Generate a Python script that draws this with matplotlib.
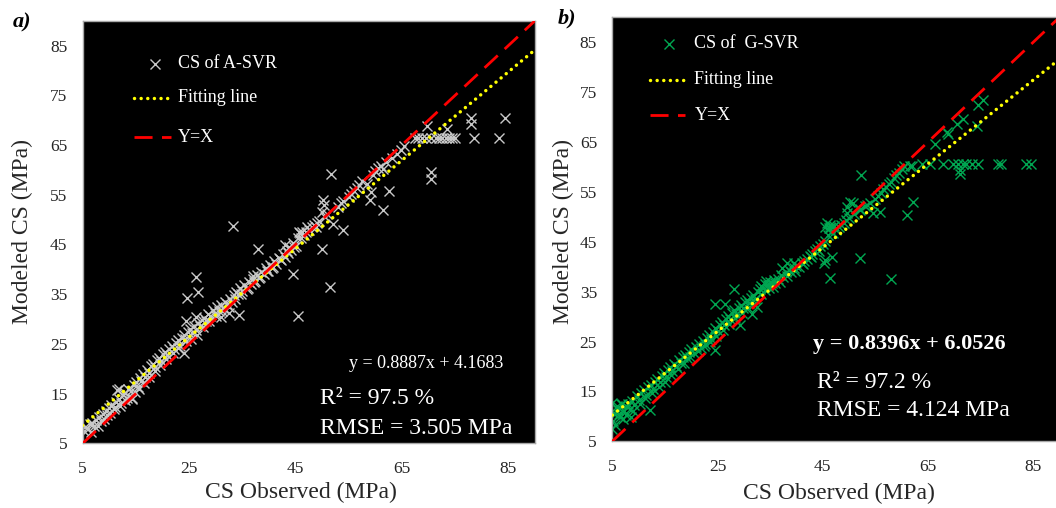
import matplotlib
matplotlib.use("Agg")
import matplotlib.pyplot as plt
from matplotlib.lines import Line2D

plt.rcParams['font.family'] = ['Liberation Serif', 'DejaVu Serif']

W, H = 1056, 508

# ---------------- data: panel a (A-SVR) ----------------
obs_a_main = [5.2, 5.5, 6.0, 6.3, 6.8, 7.2, 7.5, 8.0, 8.4, 8.8, 9.3, 9.6, 10.0, 10.4, 10.8, 11.2, 11.5, 11.8,
              12.2, 12.5, 12.9, 13.3, 13.6, 14.0, 14.3, 14.6, 15.0, 15.3, 15.7, 16.0, 16.3, 16.7, 17.0, 17.4,
              17.8, 18.2, 18.5, 18.9, 19.3, 19.7, 20.1, 20.5, 20.9, 21.3, 21.7, 22.1, 22.5, 22.9, 23.2, 23.6,
              24.0, 24.3, 24.7, 25.1, 25.5, 25.9, 26.2, 26.6, 27.0, 27.4, 27.8, 28.2, 28.6, 29.0, 29.4, 29.8,
              30.2, 30.6, 31.0, 31.4, 31.8, 32.2, 32.6, 33.0, 33.4, 33.8, 34.2, 34.6, 35.0, 35.4, 35.8, 36.2,
              36.6, 37.0, 37.4, 37.8, 38.2, 38.6, 39.0, 39.4, 39.8, 40.2, 40.6, 41.0, 41.4, 41.8, 42.2, 42.6,
              43.0, 43.4, 43.8, 44.2, 44.6, 45.0, 45.4, 45.8, 46.2, 46.6, 47.0, 47.5, 48.0, 48.5, 49.0, 49.5,
              50.5, 51.0, 53.0, 53.5, 54.0, 55.0, 55.5, 56.0, 57.0, 57.5, 58.5, 60.0, 60.5, 61.0, 62.0, 63.2,
              64.8, 65.3,
              6.5, 7.8, 9.0, 10.2, 11.0, 12.0, 13.0, 14.8, 15.5, 16.5, 17.5, 18.6, 19.5, 20.7, 21.9, 23.0,
              24.5, 25.3, 26.4, 27.6, 28.8, 30.0, 31.2, 32.4, 33.6, 34.8, 36.0, 37.2, 38.4, 39.6, 40.8, 42.0,
              43.6, 44.8, 45.6, 46.0, 47.2, 48.8, 56.5, 59.5, 61.5, 64.0]
mod_a_main = [7.5, 8.2, 7.8, 8.8, 9.0, 8.5, 9.6, 10.2, 9.5, 10.8, 11.5, 10.6, 12.0, 12.8, 11.9, 13.4, 15.8, 14.0,
              13.2, 14.8, 15.2, 14.2, 16.0, 15.5, 14.1, 16.7, 17.3, 16.4, 18.1, 17.6, 19.0, 18.4, 19.8, 19.2,
              20.5, 21.0, 20.3, 21.8, 22.2, 21.5, 22.9, 23.4, 22.8, 24.0, 24.5, 23.9, 25.2, 25.8, 24.6, 26.1,
              26.7, 25.9, 27.4, 28.0, 27.1, 28.6, 27.8, 29.2, 28.5, 29.8, 30.3, 29.5, 31.0, 30.6, 31.8, 31.2,
              32.4, 31.7, 32.9, 32.2, 33.5, 33.0, 34.1, 33.5, 34.8, 35.5, 35.0, 36.2, 35.6, 36.8, 36.1, 37.4,
              37.0, 38.1, 37.6, 38.8, 38.3, 39.5, 39.0, 40.2, 39.7, 40.9, 40.3, 41.6, 41.0, 42.3, 41.8, 43.0,
              42.5, 43.7, 44.5, 43.9, 45.2, 44.7, 46.3, 47.2, 47.6, 46.8, 47.4, 48.0, 48.5, 49.0, 49.3, 49.8,
              50.6, 51.2, 52.6, 53.3, 53.8, 54.6, 55.2, 55.8, 57.0, 57.8, 57.2, 59.8, 60.3, 60.8, 61.5, 62.3,
              64.0, 64.7,
              7.2, 8.4, 9.8, 11.0, 12.4, 12.6, 13.8, 15.4, 16.0, 17.2, 18.4, 19.6, 20.7, 21.9, 23.2, 24.1,
              25.6, 26.0, 26.7, 28.4, 29.5, 30.6, 31.6, 32.5, 34.0, 35.0, 36.3, 37.4, 38.4, 39.6, 40.5, 42.1,
              43.2, 44.4, 47.6, 46.2, 48.5, 48.6, 56.4, 59.0, 60.2, 63.2]
obs_a_out = [51.7, 50.2, 50.3, 50.0, 50.0, 51.5, 45.5, 44.6, 33.3, 38.0, 26.2, 26.6, 24.6, 24.5, 26.2, 34.3,
             24.0, 53.9, 52.0, 58.9, 59.2, 62.5, 61.4, 69.7, 70.4, 70.4, 73.4, 78.0, 78.0, 78.6, 83.3, 84.4,
             11.8, 14.3, 43.1, 37.0, 31.0, 32.5,
             67.5, 68.1, 68.8, 69.6, 70.5, 71.4, 72.0, 72.6, 73.2, 73.8, 74.4, 75.0]
mod_a_out = [59.1, 53.9, 52.9, 51.6, 44.1, 36.4, 30.7, 39.0, 48.7, 44.0, 38.4, 35.5, 34.3, 29.5, 30.5, 30.9,
             23.2, 48.0, 49.1, 53.9, 55.6, 55.8, 51.9, 68.8, 59.6, 58.1, 68.3, 70.4, 69.2, 66.5, 66.5, 70.5,
             15.9, 14.0, 44.9, 38.7, 30.5, 31.2,
             66.5, 66.5, 66.5, 66.5, 66.5, 66.5, 66.5, 66.5, 66.5, 66.5, 66.5, 66.5]
slope_a, intercept_a = 0.8887, 4.1683

# ---------------- data: panel b (G-SVR) ----------------
obs_b_main = [5.0, 5.2, 5.5, 5.8, 6.0, 6.4, 6.8, 7.2, 7.6, 8.0, 8.4, 8.8, 9.2, 9.6, 10.0, 10.5, 11.0, 11.4,
              11.8, 12.3, 12.7, 13.1, 13.5, 14.0, 14.4, 14.8, 15.2, 15.6, 16.0, 16.4, 16.8, 17.2, 17.6, 18.0,
              18.4, 18.8, 19.2, 19.6, 20.0, 20.5, 21.0, 21.4, 21.8, 22.2, 22.6, 23.0, 23.4, 23.8, 24.2, 24.6,
              25.0, 25.4, 25.8, 26.2, 26.6, 27.0, 27.4, 27.8, 28.2, 28.6, 29.0, 29.4, 29.8, 30.2, 30.6, 31.0,
              31.4, 31.8, 32.2, 32.6, 33.0, 33.3, 33.6, 34.0, 34.3, 34.6, 35.0, 35.3, 35.7, 36.0, 36.5, 37.0,
              37.5, 38.0, 38.5, 39.0, 39.5, 40.0, 40.5, 41.0, 41.5, 42.0, 42.5, 43.0, 43.5, 44.0, 44.5, 45.0,
              45.5, 46.0, 46.5, 47.0, 47.5, 48.0, 48.5, 49.0, 49.5, 50.0, 51.0, 52.0, 53.0, 54.0, 55.0, 56.0,
              56.5, 57.0, 57.5, 58.5, 59.0, 60.0, 60.5, 61.5,
              5.5, 6.2, 7.0, 7.8, 9.0, 10.2, 11.2, 12.5, 13.8, 15.0, 16.2, 17.4, 18.6, 19.8, 21.2, 22.4,
              23.6, 24.8, 26.0, 27.2, 28.4, 29.6, 30.8, 32.0, 33.2, 34.0, 34.8, 35.5, 36.8, 38.2, 39.8, 41.2,
              42.8, 44.2, 46.2, 47.2, 53.5, 55.5, 58.0, 59.5]
mod_b_main = [7.5, 9.0, 10.5, 12.0, 11.2, 9.8, 12.4, 11.0, 10.2, 12.5, 11.4, 13.0, 12.2, 14.0, 13.2, 14.6, 15.2, 14.2,
              15.8, 16.3, 15.4, 16.8, 17.4, 16.8, 18.0, 18.6, 17.8, 19.2, 19.8, 19.0, 20.4, 20.0, 21.2, 20.6,
              21.8, 22.4, 21.6, 22.9, 23.5, 22.8, 24.0, 24.6, 23.8, 25.2, 24.6, 25.8, 26.4, 25.6, 27.0, 27.8,
              27.2, 28.4, 29.0, 28.3, 29.6, 30.2, 29.5, 30.8, 31.3, 30.6, 31.8, 32.4, 31.7, 32.9, 33.4, 32.7,
              33.8, 34.4, 33.6, 34.9, 35.5, 36.2, 35.8, 36.6, 37.2, 36.4, 37.0, 36.7, 37.4, 36.8, 37.6, 38.3,
              38.0, 38.9, 39.3, 39.0, 39.8, 40.2, 39.9, 40.8, 41.2, 41.6, 42.2, 42.6, 43.2, 43.6, 44.2, 44.6,
              45.2, 46.4, 47.0, 46.8, 47.4, 47.9, 48.4, 48.8, 49.3, 49.8, 50.6, 51.6, 52.2, 52.8, 53.5, 54.8,
              55.5, 56.0, 56.6, 57.8, 58.4, 59.5, 60.1, 60.2,
              8.2, 10.4, 9.4, 11.8, 11.0, 12.4, 13.6, 14.6, 15.8, 16.8, 18.2, 19.4, 20.6, 21.8, 23.2, 24.2,
              25.0, 26.2, 27.4, 28.6, 29.8, 30.8, 31.8, 32.6, 34.6, 35.4, 35.8, 36.0, 37.0, 38.2, 39.2, 40.6,
              41.9, 43.2, 47.8, 48.2, 52.4, 54.2, 56.9, 58.8]
obs_b_out = [52.3, 62.1, 61.1, 52.1, 57.9, 46.3, 46.7, 45.2, 45.4, 75.5, 74.6, 74.4, 71.7, 70.5, 68.6, 68.9,
             66.4, 71.1, 71.1, 63.8, 65.4, 61.9, 28.1, 24.6, 26.5, 24.6, 12.2, 5.0, 5.2, 29.3, 31.6, 32.5,
             37.3, 38.2, 39.5, 6.6, 8.5, 45.5, 46.4, 50.8, 50.2, 49.6, 49.6, 52.1, 54.6, 55.9, 45.8, 46.4,
             67.9, 69.8, 70.8, 71.7, 72.3, 73.3, 74.6, 78.4, 78.8, 83.7, 84.5]
mod_b_out = [58.3, 53.0, 50.4, 41.8, 37.5, 37.7, 41.9, 40.7, 41.4, 73.4, 72.4, 68.2, 69.7, 68.7, 67.1, 66.7,
             64.7, 59.4, 58.6, 60.6, 60.6, 60.2, 35.5, 32.6, 32.6, 23.3, 11.3, 12.6, 10.6, 28.3, 30.6, 32.0,
             39.7, 40.7, 40.7, 12.5, 9.8, 48.0, 48.4, 52.7, 53.0, 52.0, 50.7, 51.3, 50.7, 51.0, 48.7, 47.7,
             60.6, 60.6, 60.6, 60.6, 60.6, 60.6, 60.6, 60.6, 60.6, 60.6, 60.6]
slope_b, intercept_b = 0.8396, 6.0526

line_x = [5, 90]
x_ticks = [5, 25, 45, 65, 85]
y_ticks = [5, 15, 25, 35, 45, 55, 65, 75, 85]

GRAY = '#c8c8c8'
GREEN = '#00a651'
RED = '#ff0000'
YEL = '#ffff00'
MS = 7
MEW = 1.0
DOT = (0, (0.01, 1.9))
DASH = (6.5, 3.4)

fig = plt.figure(figsize=(W / 100, H / 100), dpi=100)


def fx(px):
    return px / W


def fy(py):
    return 1 - py / H


def make_axes(l, t, r, b):
    ax = fig.add_axes([fx(l), fy(b), (r - l) / W, (b - t) / H])
    ax.set_facecolor('black')
    ax.set_xlim(5, 90)
    ax.set_ylim(5, 90)
    ax.set_xticks(x_ticks)
    ax.set_yticks(y_ticks)
    ax.tick_params(length=0, labelsize=12.5, pad=11, colors='#262626')
    ax.tick_params(axis='x', pad=13)
    for s in ax.spines.values():
        s.set_color('#a8a8a8')
        s.set_linewidth(1.0)
    return ax


def draw_panel(ax, ox, oy, ex, ey, slope, intercept, color):
    ax.plot(ox, oy, linestyle='none', marker='x', markersize=MS, mew=MEW, color=color, zorder=2)
    ax.plot(ex, ey, linestyle='none', marker='x', markersize=MS, mew=MEW, color=color, zorder=2)
    fit_y = [slope * v + intercept for v in line_x]
    ax.plot(line_x, fit_y, color=YEL, lw=2.5, linestyle=DOT,
            dash_capstyle='round', zorder=3)
    ax.plot(line_x, line_x, color=RED, lw=2.0, dashes=DASH, zorder=4)


def legend(marker_px, text_x, rows_y, line_x0, line_x1, labels, color):
    fig.add_artist(Line2D([fx(marker_px)], [fy(rows_y[0])], marker='x', markersize=MS, mew=MEW,
                          color=color, linestyle='none'))
    fig.add_artist(Line2D([fx(line_x0), fx(line_x1)], [fy(rows_y[1])] * 2, color=YEL, lw=2.5,
                          linestyle=DOT, dash_capstyle='round'))
    fig.add_artist(Line2D([fx(line_x0), fx(line_x1)], [fy(rows_y[2])] * 2, color=RED, lw=2.0,
                          dashes=DASH))
    for lab, yy in zip(labels, rows_y):
        fig.text(fx(text_x), fy(yy), lab, color='white', fontsize=13, ha='left', va='center')


# ---------------- panel a ----------------
ax1 = make_axes(82.7, 20.7, 535, 443.3)
draw_panel(ax1, obs_a_main, mod_a_main, obs_a_out, mod_a_out, slope_a, intercept_a, GRAY)
legend(155, 178, [64, 98, 137], 134, 171, ['CS of A-SVR', 'Fitting line', 'Y=X'], GRAY)
fig.text(fx(503), fy(364), 'y = 0.8887x + 4.1683', color='white', fontsize=13, ha='right', va='center')
fig.text(fx(320), fy(399), 'R² = 97.5 %', color='white', fontsize=17, ha='left', va='center')
fig.text(fx(320), fy(428), 'RMSE = 3.505 MPa', color='white', fontsize=17, ha='left', va='center')
fig.text(fx(301), fy(492), 'CS Observed (MPa)', fontsize=17, ha='center', va='center', color='#262626')
fig.text(fx(22), fy(231), 'Modeled CS (MPa)', fontsize=17, ha='center', va='center', rotation=90,
         color='#262626')
fig.text(fx(22), fy(22), 'a)', fontsize=16, fontweight='bold', fontstyle='italic', ha='center', va='center')

# ---------------- panel b ----------------
ax2 = make_axes(612.3, 17.3, 1059.5, 441.3)
draw_panel(ax2, obs_b_main, mod_b_main, obs_b_out, mod_b_out, slope_b, intercept_b, GREEN)
legend(669, 694.5, [44, 80, 115], 650, 685, ['CS of  G-SVR', 'Fitting line', 'Y=X'], GREEN)
fig.text(fx(1006), fy(344), 'y = 0.8396x + 6.0526', color='white', fontsize=16, fontweight='bold',
         ha='right', va='center')
fig.text(fx(817), fy(382), 'R² = 97.2 %', color='white', fontsize=17, ha='left', va='center')
fig.text(fx(817), fy(410), 'RMSE = 4.124 MPa', color='white', fontsize=17, ha='left', va='center')
fig.text(fx(839), fy(493), 'CS Observed (MPa)', fontsize=17, ha='center', va='center', color='#262626')
fig.text(fx(563), fy(231), 'Modeled CS (MPa)', fontsize=17, ha='center', va='center', rotation=90,
         color='#262626')
fig.text(fx(567), fy(18), 'b)', fontsize=16, fontweight='bold', fontstyle='italic', ha='center', va='center')

fig.savefig('out.png', dpi=100, facecolor='white')
